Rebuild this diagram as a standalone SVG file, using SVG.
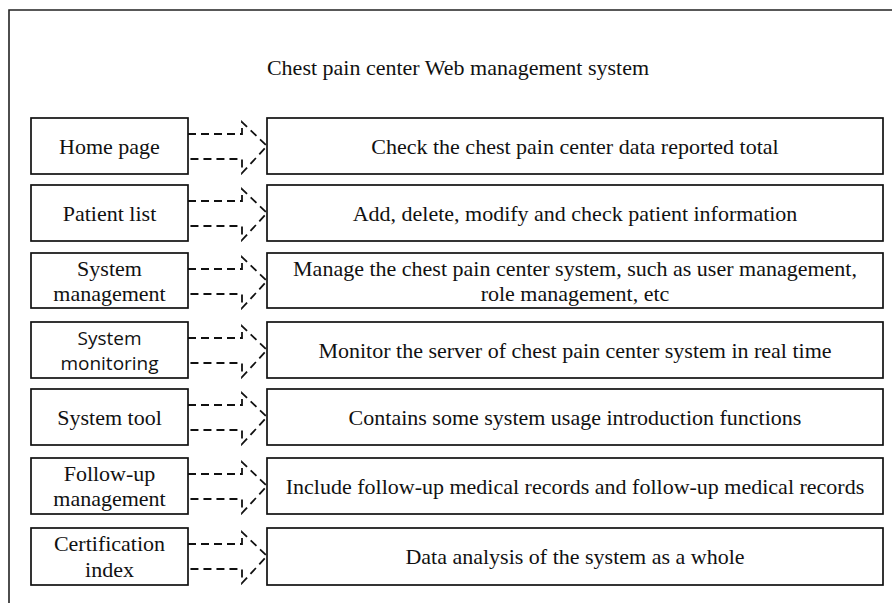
<svg xmlns="http://www.w3.org/2000/svg" width="892" height="603" viewBox="0 0 892 603">
  <defs>
    <!-- dashed block-arrow outline: top rail, head, bottom rail (origin = left box edge, row top) -->
    <path id="flow" d="M0,16 H54 V4 L79,28 L54,55 V41 H0"/>
  </defs>
  <style>
    .frame { fill: none; stroke: #222; stroke-width: 1.6; }
    .box { fill: #fff; stroke: #111; stroke-width: 1.7; }
    .serif { font-family: "Liberation Serif", "Times New Roman", serif; font-size: 22px; fill: #111; text-anchor: middle; }
    .sans { font-family: "Open Sans", "Noto Sans", "Liberation Sans", sans-serif; font-size: 19px; fill: #111; text-anchor: middle; }
    .arrow { fill: none; stroke: #111; stroke-width: 1.8; stroke-dasharray: 8 5; }
  </style>
  <rect width="892" height="603" fill="#fff"/>

  <!-- outer frame -->
  <path class="frame" d="M9,603 V10 H892"/>
  <text class="serif" x="458" y="75">Chest pain center Web management system</text>

  <!-- connectors -->
  <g id="connectors">
    <use href="#flow" class="arrow" x="188" y="118"/>
    <use href="#flow" class="arrow" x="188" y="185"/>
    <use href="#flow" class="arrow" x="188" y="253"/>
    <use href="#flow" class="arrow" x="188" y="322"/>
    <use href="#flow" class="arrow" x="188" y="389"/>
    <use href="#flow" class="arrow" x="188" y="458"/>
    <use href="#flow" class="arrow" x="188" y="528"/>
  </g>

  <g id="home">
    <rect class="box" x="31" y="118" width="157" height="56"/>
    <text class="serif" x="109.5" y="154">Home page</text>
  </g>
  <g id="home-desc">
    <rect class="box" x="267" y="118" width="616" height="56"/>
    <text class="serif" x="575" y="154">Check the chest pain center data reported total</text>
  </g>

  <g id="patients">
    <rect class="box" x="31" y="185" width="157" height="56"/>
    <text class="serif" x="109.5" y="221">Patient list</text>
  </g>
  <g id="patients-desc">
    <rect class="box" x="267" y="185" width="616" height="56"/>
    <text class="serif" x="575" y="221">Add, delete, modify and check patient information</text>
  </g>

  <g id="sysmgmt">
    <rect class="box" x="31" y="253" width="157" height="55"/>
    <text class="serif" x="109.5" y="276">System</text>
    <text class="serif" x="109.5" y="301">management</text>
  </g>
  <g id="sysmgmt-desc">
    <rect class="box" x="267" y="253" width="616" height="55"/>
    <text class="serif" x="575" y="276">Manage the chest pain center system, such as user management,</text>
    <text class="serif" x="575" y="301">role management, etc</text>
  </g>

  <g id="sysmon">
    <rect class="box" x="31" y="322" width="157" height="56"/>
    <text class="sans" x="109.5" y="345">System</text>
    <text class="sans" x="109.5" y="370">monitoring</text>
  </g>
  <g id="sysmon-desc">
    <rect class="box" x="267" y="322" width="616" height="56"/>
    <text class="serif" x="575" y="358">Monitor the server of chest pain center system in real time</text>
  </g>

  <g id="systool">
    <rect class="box" x="31" y="389" width="157" height="56"/>
    <text class="serif" x="109.5" y="425">System tool</text>
  </g>
  <g id="systool-desc">
    <rect class="box" x="267" y="389" width="616" height="56"/>
    <text class="serif" x="575" y="425">Contains some system usage introduction functions</text>
  </g>

  <g id="followup">
    <rect class="box" x="31" y="458" width="157" height="56"/>
    <text class="serif" x="109.5" y="481">Follow-up</text>
    <text class="serif" x="109.5" y="506">management</text>
  </g>
  <g id="followup-desc">
    <rect class="box" x="267" y="458" width="616" height="56"/>
    <text class="serif" x="575" y="494">Include follow-up medical records and follow-up medical records</text>
  </g>

  <g id="cert">
    <rect class="box" x="31" y="528" width="157" height="57"/>
    <text class="serif" x="109.5" y="551">Certification</text>
    <text class="serif" x="109.5" y="577">index</text>
  </g>
  <g id="cert-desc">
    <rect class="box" x="267" y="528" width="616" height="57"/>
    <text class="serif" x="575" y="564">Data analysis of the system as a whole</text>
  </g>
</svg>
